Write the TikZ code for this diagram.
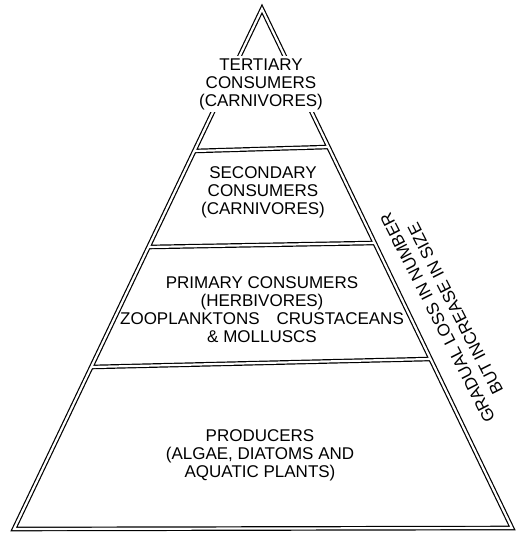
\documentclass[tikz,border=0pt]{standalone}
\usepackage{fontspec}
\setmainfont{Liberation Sans}
\begin{document}
\begin{tikzpicture}[x=1pt,y=-1pt,
  lab/.style={font=\fontsize{17}{18}\selectfont, align=center, inner sep=0pt},
  sidelab/.style={font=\fontsize{17}{20}\selectfont, align=center, inner sep=0pt},
  pipeout/.style={line width=4.6pt, black, line join=miter, line cap=butt},
  pipein/.style={line width=2.2pt, white, line join=miter, line cap=butt}]
\useasboundingbox (0,0) rectangle (519,536);
% pyramid corners (centre line of the double stroke)
\coordinate (A) at (262,9);
\coordinate (L) at (14,529);
\coordinate (R) at (512,528);
% dividers
\coordinate (d1l) at (194.3,151);
\coordinate (d1r) at (328.5,147);
\coordinate (d2l) at (148.5,247);
\coordinate (d2r) at (374.7,243);
\coordinate (d3l) at (91.3,367);
\coordinate (d3r) at (430.6,359);
\def\framepath{(A)--(L)--(R)--cycle (d1l)--(d1r) (d2l)--(d2r) (d3l)--(d3r)}
\draw[pipeout] \framepath;
\draw[pipein] \framepath;
% labels
\node[lab, fill=white, inner sep=2pt] (tert) at (261,84) {TERTIARY\\CONSUMERS\\(CARNIVORES)};
\node[lab] (sec) at (263,192) {SECONDARY\\CONSUMERS\\(CARNIVORES)};
\node[lab] (prim) at (262,310) {PRIMARY CONSUMERS\\(HERBIVORES)\\ZOOPLANKTONS\quad CRUSTACEANS\\\& MOLLUSCS};
\node[lab] (prod) at (260,455) {PRODUCERS\\(ALGAE, DIATOMS AND\\AQUATIC PLANTS)};
\node[sidelab, rotate=117] (side) at (446.5,313.5) {GRADUAL LOSS IN NUMBER\\BUT INCREASE IN SIZE};
\end{tikzpicture}
\end{document}
